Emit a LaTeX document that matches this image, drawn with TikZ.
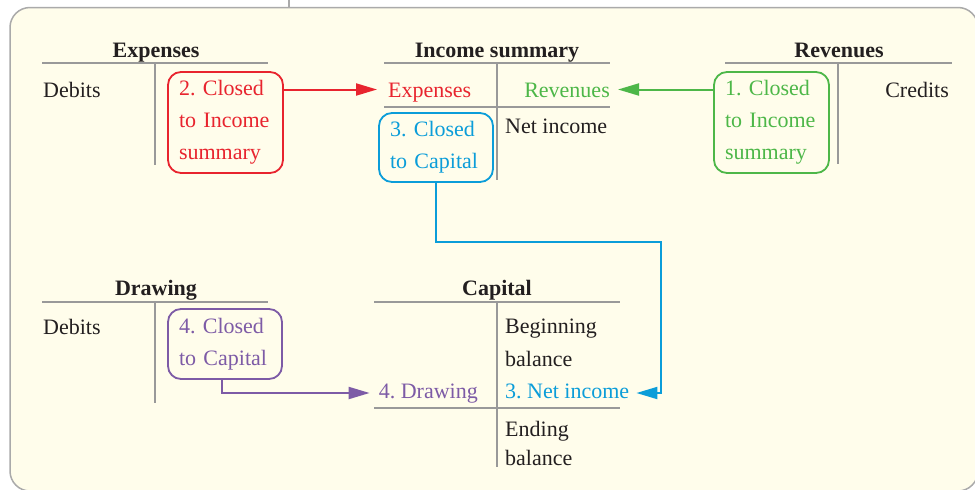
\documentclass[tikz,border=0pt]{standalone}
\usepackage{fontspec}
\setmainfont{Liberation Serif}
\usetikzlibrary{arrows.meta}
\definecolor{ink}{HTML}{231F20}
\definecolor{tgray}{HTML}{999999}
\definecolor{cream}{HTML}{FFFDEB}
\definecolor{bgray}{HTML}{AAAAAA}
\definecolor{cred}{HTML}{E8242E}
\definecolor{cgreen}{HTML}{4DB748}
\definecolor{cblue}{HTML}{0B9DD9}
\definecolor{cpurple}{HTML}{7D5BA6}
\frenchspacing
\begin{document}
\frenchspacing
\begin{tikzpicture}[x=1pt,y=-1pt,
  lbl/.style={inner sep=0pt, text=ink, text height=15pt, text depth=5pt, font=\fontsize{22}{32}\selectfont},
  ttl/.style={lbl, font=\fontsize{22}{32}\selectfont\bfseries, anchor=base},
  tline/.style={draw=tgray, line width=2.8pt},
  mline/.style={draw=tgray, line width=1.8pt},
  cbox/.style={draw=#1, text=#1, line width=1.8pt, rounded corners=13pt, align=left, inner xsep=11pt, inner ysep=0pt, font=\fontsize{22}{32}\selectfont},
  conn/.style={draw=#1, line width=2pt, -{Triangle[length=21pt,width=12pt]}},
]
\useasboundingbox (0,0) rectangle (975,490);
% background
\fill[white] (0,0) rectangle (975,490);
\draw[fill=cream, draw=bgray, line width=1.5pt, rounded corners=20pt] (10,7.5) rectangle (978,491);
\draw[bgray, line width=1.5pt] (289,0) -- (289,7.5);

% Expenses
\node[ttl] (expT) at (156,57) {Expenses};
\draw[tline] (42,63) -- (268,63);
\draw[tline] (155,63) -- (155,165);
\node[lbl, anchor=base west] (expD) at (43,97) {Debits};
\node[cbox=cred, text width=93pt, minimum height=101pt] (b2) at (225.5,122.5) {2. Closed\\to Income\\summary};

% Income summary
\node[ttl] (isT) at (497,57) {Income summary};
\draw[tline] (384,63) -- (610,63);
\draw[tline] (497,63) -- (497,180);
\draw[mline] (384,107) -- (610,107);
\node[lbl, text=cred, anchor=base west] (isE) at (388,97) {Expenses};
\node[lbl, text=cgreen, anchor=base east] (isR) at (610,97) {Revenues};
\node[lbl, anchor=base west] (isN) at (505,133) {Net income};
\node[cbox=cblue, text width=92pt, minimum height=69pt] (b3) at (436,147.5) {3. Closed\\to Capital};

% Revenues
\node[ttl] (rvT) at (839,57) {Revenues};
\draw[tline] (725,63) -- (952,63);
\draw[tline] (838,63) -- (838,164);
\node[lbl, anchor=base east] (rvC) at (949,97) {Credits};
\node[cbox=cgreen, text width=93pt, minimum height=101pt] (b1) at (771.5,122.5) {1. Closed\\to Income\\summary};

% Drawing
\node[ttl] (drT) at (156,295) {Drawing};
\draw[tline] (42,302) -- (268,302);
\draw[tline] (155,302) -- (155,403);
\node[lbl, anchor=base west] (drD) at (43,334) {Debits};
\node[cbox=cpurple, text width=92pt, minimum height=70pt] (b4) at (225,344) {4. Closed\\to Capital};

% Capital
\node[ttl] (cpT) at (497,295) {Capital};
\draw[tline] (374,302) -- (620,302);
\draw[tline] (497,302) -- (497,467);
\draw[mline] (374,408) -- (620,408);
\node[lbl, anchor=base west] (cpB) at (505,333) {Beginning};
\node[lbl, anchor=base west] (cpB2) at (505,366) {balance};
\node[lbl, text=cpurple, anchor=base east] (cpD) at (478,398) {4. Drawing};
\node[lbl, text=cblue, anchor=base west] (cpN) at (505,398) {3. Net income};
\node[lbl, anchor=base west] (cpE) at (505,436) {Ending};
\node[lbl, anchor=base west] (cpE2) at (505,465) {balance};

% connectors
\coordinate (rE) at ([xshift=-11pt,yshift=2.5pt]isE.west);
\draw[conn=cred] (b2.east |- rE) -- (rE);
\coordinate (gR) at ([xshift=8pt,yshift=2.5pt]isR.east);
\draw[conn=cgreen] (b1.west |- gR) -- (gR);
\coordinate (bN) at ([xshift=7pt]cpN.east);
\coordinate (bturn) at (661,242);
\draw[conn=cblue] (b3.south) |- (bturn) |- (bN);
\coordinate (pD) at ([xshift=-9pt]cpD.west);
\coordinate (pS) at ([xshift=-3pt]b4.south);
\draw[conn=cpurple] (pS) |- (pD);
\end{tikzpicture}
\end{document}
